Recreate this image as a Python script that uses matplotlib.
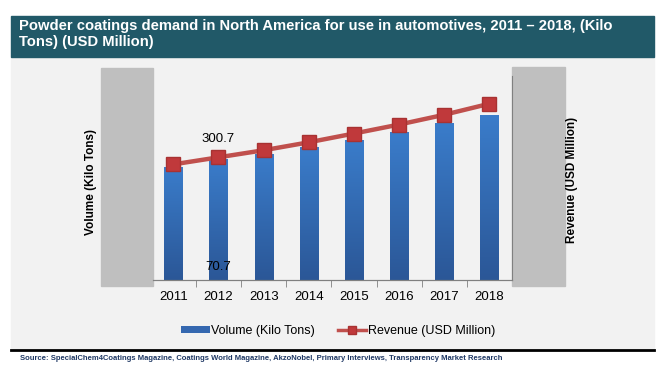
import numpy as np
import matplotlib.pyplot as plt
from matplotlib.patches import Rectangle, Patch
from matplotlib.lines import Line2D
from matplotlib.colors import LinearSegmentedColormap

plt.rcParams['font.family'] = ['Liberation Sans', 'DejaVu Sans']

# data
years = ['2011', '2012', '2013', '2014', '2015', '2016', '2017', '2018']
volume = [66.2, 70.7, 73.9, 78.2, 82.3, 87.0, 92.3, 97.0]      # Kilo Tons
revenue = [283.4, 300.7, 318.0, 337.5, 359.0, 381.0, 405.0, 432.0]  # USD Million

W, H = 667, 380
fig = plt.figure(figsize=(W / 100, H / 100), dpi=100)

def fx(px):
    return px / W

def fy(py):
    return 1 - py / H

# chart background, banner, bottom rule
fig.patches.append(Rectangle((fx(11), fy(348)), fx(643), 291 / H, transform=fig.transFigure,
                             color='#f2f2f2', zorder=-2))
fig.patches.append(Rectangle((fx(11), fy(57)), fx(643), 41 / H, transform=fig.transFigure,
                             color='#215968', zorder=-2))
fig.lines.append(Line2D([fx(11), fx(654)], [fy(350), fy(350)], transform=fig.transFigure,
                        color='black', lw=2))
# gray side blocks
fig.patches.append(Rectangle((fx(101), fy(286)), fx(52), 218 / H, transform=fig.transFigure,
                             color='#bfbfbf', zorder=-1))
fig.patches.append(Rectangle((fx(512), fy(286)), fx(53), 219 / H, transform=fig.transFigure,
                             color='#bfbfbf', zorder=-1))

fig.text(fx(19), fy(19), 'Powder coatings demand in North America for use in automotives, 2011 \u2013 2018, (Kilo\nTons) (USD Million)',
         color='white', fontsize=10.6, fontweight='bold', va='top', ha='left', linespacing=1.15)

ax = fig.add_axes([fx(153), fy(280), fx(512 - 153), 204 / H])
ax.set_facecolor('none')
x = np.arange(len(years))
bw = 0.4

# gradient bars
grad = np.linspace(0, 1, 100).reshape(-1, 1)
cmap = LinearSegmentedColormap.from_list('b', ['#2b5797', '#3a7cca'])
for xi, v in zip(x, volume):
    ax.imshow(grad, extent=[xi - bw / 2, xi + bw / 2, 0, v], origin='lower', aspect='auto',
              cmap=cmap, zorder=2)
ax.set_xlim(-0.45, 7.5)
ax.set_ylim(0, 120)

ax2 = ax.twinx()
ax2.plot(x, revenue, color='#c0504d', lw=3.2, zorder=3)
ax2.plot(x, revenue, linestyle='none', marker='s', markersize=10,
         markerfacecolor='#c0393b', markeredgecolor='#a83232', zorder=4)
ax2.set_ylim(0, 500)
ax2.set_xlim(-0.45, 7.5)

for a in (ax, ax2):
    a.set_yticks([])
    for s in ('top', 'left'):
        a.spines[s].set_visible(False)
ax.spines['right'].set_visible(False)
ax2.spines['right'].set_color('#808080')
ax2.spines['bottom'].set_color('#808080')
ax.spines['bottom'].set_color('#808080')

ax.set_xticks(x)
ax.set_xticklabels(years, fontsize=9.5)
ax.tick_params(axis='x', length=0, pad=8)
ax.set_xticks(x[:-1] + 0.5, minor=True)
ax.tick_params(axis='x', which='minor', length=5, color='#808080')

ax.text(1, 7.5, '70.7', ha='center', va='center', fontsize=9.5, zorder=4)
ax2.text(1, 300.7 + 45, '300.7', ha='center', va='center', fontsize=9.5)

fig.text(fx(91), fy(182), 'Volume (Kilo Tons)', rotation=90, ha='center', va='center',
         fontsize=8.5, fontweight='bold')
fig.text(fx(572), fy(180), 'Revenue (USD Million)', rotation=90, ha='center', va='center',
         fontsize=8.5, fontweight='bold')

handles = [Patch(facecolor='#3568b0', edgecolor='none'),
           Line2D([], [], color='#c0504d', lw=2.5, marker='s', markersize=6,
                  markerfacecolor='#c0393b', markeredgecolor='#a83232')]
fig.legend(handles, ['Volume (Kilo Tons)', 'Revenue (USD Million)'], loc='center',
           bbox_to_anchor=(fx(338), fy(331)), ncol=2, frameon=False, fontsize=9,
           handlelength=2.3, handleheight=0.5, handletextpad=0.1, columnspacing=1.8)

fig.text(fx(20), fy(359), 'Source: SpecialChem4Coatings Magazine, Coatings World Magazine, AkzoNobel, Primary Interviews, Transparency Market Research',
         color='#1f3864', fontsize=5.5, fontweight='bold', va='center', ha='left')

fig.savefig('out.png', dpi=100)
